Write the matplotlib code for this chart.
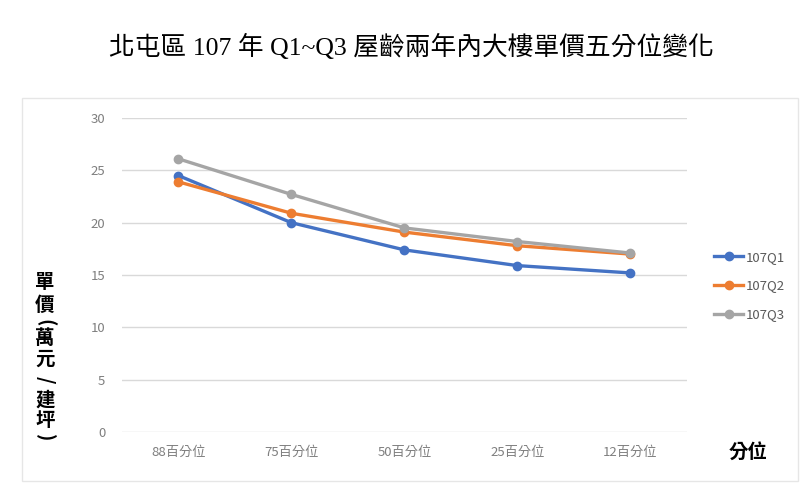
import matplotlib
matplotlib.use('Agg')
import matplotlib.pyplot as plt
from matplotlib.patches import Rectangle

plt.rcParams['font.family'] = ['Noto Sans CJK TC', 'DejaVu Sans']

# data
categories = ['88百分位', '75百分位', '50百分位', '25百分位', '12百分位']
q1 = [24.5, 20.0, 17.4, 15.9, 15.2]
q2 = [23.9, 20.9, 19.1, 17.8, 17.0]
q3 = [26.1, 22.7, 19.5, 18.2, 17.1]
series_names = ['107Q1', '107Q2', '107Q3']
colors = ['#4472C4', '#ED7D31', '#A5A5A5']
yticks = [0, 5, 10, 15, 20, 25, 30]

W, H = 800, 493
fig = plt.figure(figsize=(W / 100, H / 100), dpi=100)
ax = fig.add_axes([0.1525, 0.1237, 0.706, 0.6369])

# light frame around the chart area
fig.patches.append(Rectangle((0.0275, 0.0243), 0.97, 0.777, transform=fig.transFigure,
                             fill=False, edgecolor='#e6e6e6', linewidth=1))

x = range(len(categories))
for vals, name, c in zip([q1, q2, q3], series_names, colors):
    ax.plot(x, vals, color=c, linewidth=2.4, marker='o', markersize=6, label=name)

ax.set_xlim(-0.5, len(categories) - 0.5)
ax.set_ylim(0, 30)
ax.set_yticks(yticks)
ax.set_xticks(list(x))
ax.set_xticklabels(categories)
ax.grid(axis='y', color='#d9d9d9', linewidth=1)
ax.set_axisbelow(True)
for s in ax.spines.values():
    s.set_visible(False)
ax.tick_params(length=0, colors='#7f7f7f', labelsize=9.5)
ax.tick_params(axis='y', pad=12)
ax.tick_params(axis='x', pad=10)

fig.text(0.514, 0.905, '北屯區 107 年 Q1~Q3 屋齡兩年內大樓單價五分位變化',
         ha='center', va='center', fontsize=18.5,
         family=['Liberation Serif', 'Noto Sans CJK TC'])

# vertical y label: CJK upright, brackets and slash turned
ylabel_chars = ['單', '價', '(', '萬', '元', '/', '建', '坪', ')']
ylabel_px = [283, 305, 323, 339, 359, 380, 400, 420, 438]
for ch, py in zip(ylabel_chars, ylabel_px):
    rot = -90 if ch in '()/' else 0
    fig.text(45 / W, 1 - py / H, ch, ha='center', va='center', fontsize=14,
             fontweight='bold', rotation=rot)

fig.text(0.935, 0.083, '分位', ha='center', va='center', fontsize=14, fontweight='bold')

leg = fig.legend(loc='center left', bbox_to_anchor=(0.878, 0.42), frameon=False,
                 fontsize=9.5, handlelength=2.2, labelspacing=1.2, handletextpad=0.2)
for t in leg.get_texts():
    t.set_color('#595959')

fig.savefig('out.png', dpi=100)
